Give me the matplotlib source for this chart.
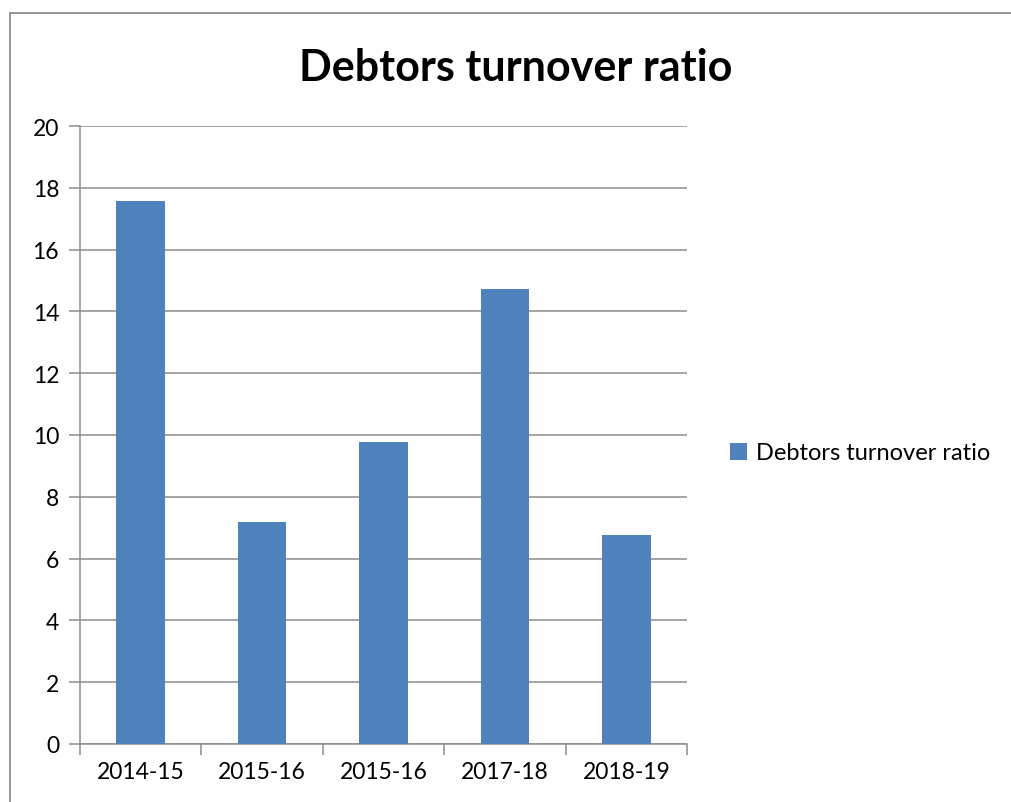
import matplotlib.pyplot as plt
import numpy as np
from matplotlib.patches import Rectangle

years = ["2014-15", "2015-16", "2015-16", "2017-18", "2018-19"]
ratio = [17.57, 7.18, 9.77, 14.73, 6.77]
series_name = "Debtors turnover ratio"

plt.rcParams['font.family'] = ['Lato', 'DejaVu Sans']

fig = plt.figure(figsize=(10.12, 8.03), dpi=100)
W, H = 1012, 803

# outer chart border
fig.patches.append(Rectangle((10 / W, -0.1), 1.2, 1 - 14 / H + 0.1, transform=fig.transFigure,
                             fill=False, edgecolor="#8c8c8c", linewidth=1.3))

ax = fig.add_axes([80 / W, 1 - 745 / H, 607 / W, 618 / H])
x = np.arange(len(years))
ax.bar(x, ratio, width=0.4, color="#4F81BD", label=series_name, zorder=3)

ax.set_xlim(-0.5, len(years) - 0.5)
ax.set_ylim(0, 20)
ax.set_yticks(range(0, 21, 2))
ax.set_xticks(x)
ax.set_xticklabels(years)
ax.set_xticks(np.arange(-0.5, len(years), 1), minor=True)
ax.yaxis.grid(True, color="#8c8c8c", linewidth=1.1, zorder=0)

for s in ["top", "right"]:
    ax.spines[s].set_visible(False)
for s in ["left", "bottom"]:
    ax.spines[s].set_color("#8c8c8c")
    ax.spines[s].set_linewidth(1.1)

ax.tick_params(axis="x", which="major", length=0, pad=12, labelsize=16.5)
ax.tick_params(axis="x", which="minor", length=8, color="#8c8c8c", width=1.1)
ax.tick_params(axis="y", length=8, color="#8c8c8c", width=1.1, pad=7, labelsize=16.5)

fig.text(516 / W, 1 - 68 / H, "Debtors turnover ratio", ha="center", va="center",
         fontsize=31, fontweight="bold")

fig.legend(loc="center left", bbox_to_anchor=(709 / W, 1 - 454 / H), frameon=False,
           fontsize=17, handlelength=0.7, handleheight=0.7, handletextpad=0.4)

fig.savefig("out.png", dpi=100)
